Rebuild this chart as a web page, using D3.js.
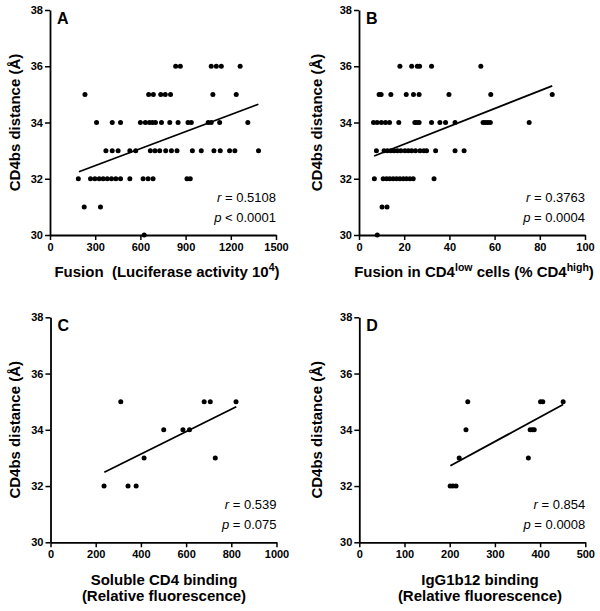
<!DOCTYPE html>
<html><head><meta charset="utf-8">
<script src="https://cdn.jsdelivr.net/npm/d3@7"></script>
<style>
body{margin:0;background:#fff;}
svg text{font-family:Arial,"Liberation Sans",sans-serif;fill:#000;white-space:pre;}
</style></head>
<body><svg id="c" width="600" height="611"></svg>
<script>
// ---- data ----
const yTicks = [30, 32, 34, 36, 38];
const xTicksA = [0, 300, 600, 900, 1200, 1500];
const xTicksB = [0, 20, 40, 60, 80, 100];
const xTicksC = [0, 200, 400, 600, 800, 1000];
const xTicksD = [0, 100, 200, 300, 400, 500];

const pointsA = [
  [834,36],[865,36],[1070,36],[1104,36],[1137,36],[1262,36],
  [232,35],[655,35],[686,35],[735,35],[765,35],[800,35],[1081,35],[1236,35],
  [309,34],[413,34],[468,34],[600,34],[633,34],[660,34],[680,34],[700,34],[740,34],[795,34],[850,34],[916,34],[938,34],[1050,34],[1070,34],[1126,34],[1313,34],
  [371,33],[413,33],[452,33],[530,33],[569,33],[666,33],[697,33],[728,33],[768,33],[806,33],[843,33],[945,33],[1004,33],[1088,33],[1130,33],[1192,33],[1227,33],[1384,33],
  [188,32],[269,32],[298,32],[327,32],[353,32],[380,32],[408,32],[437,32],[468,32],[530,32],[618,32],[651,32],[684,32],[909,32],[931,32],
  [227,31],[335,31],
  [625,30]
];
const pointsB = [
  [18.1,36],[23.3,36],[25.8,36],[26.8,36],[32.1,36],[53.9,36],
  [8.9,35],[9.8,35],[14.1,35],[20.9,35],[24.1,35],[26.6,35],[39.8,35],[58.3,35],[85.5,35],
  [6.4,34],[8,34],[9.9,34],[11.7,34],[13.5,34],[17.6,34],[24.7,34],[25.6,34],[26.6,34],[32.1,34],[35.8,34],[38.3,34],[42.5,34],[54.9,34],[55.9,34],[57,34],[58.1,34],[75.3,34],
  [7.7,33],[11.1,33],[12.6,33],[14.1,33],[15.5,33],[17,33],[18.5,33],[20.3,33],[21.8,33],[23.3,33],[25,33],[27,33],[28.7,33],[29.9,33],[33.9,33],[42.5,33],[46.5,33],
  [6.8,32],[10.7,32],[12.2,32],[13.6,32],[15.1,32],[16.6,32],[18.1,32],[19.6,32],[21,32],[22.5,32],[24,32],[33.2,32],
  [10.2,31],[12.4,31],
  [8.1,30]
];
const pointsC = [[237,32],[343,32],[379,32],[311,35],[414,33],[501,34],[586,34],[615,34],[680,35],[707,35],[729,33],[821,35]];
const pointsD = [[201,32],[207,32],[214,32],[221,33],[374,33],[236,34],[378,34],[383,34],[387,34],[240,35],[401,35],[406,35],[451,35]];

const fitA = [[192,32.25],[1383,34.65]];
const fitB = [[6.7,32.81],[85.5,35.3]];
const fitC = [[238,32.49],[822,34.82]];
const fitD = [[201.5,32.72],[451,34.9]];

const statsA = ["r", " = 0.5108", "p", " < 0.0001"];
const statsB = ["r", " = 0.3763", "p", " = 0.0004"];
const statsC = ["r", " = 0.539", "p", " = 0.075"];
const statsD = ["r", " = 0.854", "p", " = 0.0008"];

const yTitle = "CD4bs distance (Å)";

// ---- layout ----
const svg = d3.select("#c");
const W = 226, H = 225;

const panels = [
  {letter:"A", left:50, top:10, xmax:1500, ticks:xTicksA, pts:pointsA, fit:fitA, stats:statsA, ytx:19.5,
   xtitle:[[["Fusion  (Luciferase activity 10",0],["4",1],[")",0]]], xtc:167, xty:[277]},
  {letter:"B", left:359, top:10, xmax:100, ticks:xTicksB, pts:pointsB, fit:fitB, stats:statsB, ytx:322,
   xtitle:[[["Fusion in CD4",0],["low",1],[" cells (% CD4",0],["high",1],[")",0]]], xtc:474, xty:[277]},
  {letter:"C", left:50.5, top:317.3, xmax:1000, ticks:xTicksC, pts:pointsC, fit:fitC, stats:statsC, ytx:19.5,
   xtitle:[[["Soluble CD4 binding",0]],[["(Relative fluorescence)",0]]], xtc:164, xty:[585,601]},
  {letter:"D", left:359.3, top:317.3, xmax:500, ticks:xTicksD, pts:pointsD, fit:fitD, stats:statsD, ytx:322,
   xtitle:[[["IgG1b12 binding",0]],[["(Relative fluorescence)",0]]], xtc:480, xty:[585,601]}
];

panels.forEach(p => {
  const x = d3.scaleLinear().domain([0, p.xmax]).range([p.left, p.left + W]);
  const y = d3.scaleLinear().domain([30, 38]).range([p.top + H, p.top]);
  const g = svg.append("g");

  const ya = g.append("g").attr("transform", `translate(${p.left},0)`)
    .call(d3.axisLeft(y).tickValues(yTicks).tickFormat(d3.format("d")).tickSize(5).tickSizeOuter(0).tickPadding(2));
  const xa = g.append("g").attr("transform", `translate(0,${p.top + H})`)
    .call(d3.axisBottom(x).tickValues(p.ticks).tickFormat(d3.format("d")).tickSize(5).tickSizeOuter(0).tickPadding(3));
  [ya, xa].forEach(a => {
    a.select(".domain").attr("stroke", "#000").attr("stroke-width", 1.8);
    a.selectAll(".tick line").attr("stroke", "#000").attr("stroke-width", 1.5);
    a.selectAll(".tick text").attr("font-size", 11).attr("font-weight", "bold")
      .attr("font-family", 'Arial,"Liberation Sans",sans-serif').attr("fill", "#000");
  });

  // regression line
  g.append("line")
    .attr("x1", x(p.fit[0][0])).attr("y1", y(p.fit[0][1]))
    .attr("x2", x(p.fit[1][0])).attr("y2", y(p.fit[1][1]))
    .attr("stroke", "#000").attr("stroke-width", 1.8);

  // points
  g.selectAll("circle.pt").data(p.pts).enter().append("circle")
    .attr("cx", d => x(d[0])).attr("cy", d => y(d[1])).attr("r", 2.5).attr("fill", "#000");

  // panel letter
  g.append("text").attr("x", p.left + 7).attr("y", p.top + 13.5)
    .attr("font-size", 16).attr("font-weight", "bold").text(p.letter);

  // stats
  const sx = p.left + W;
  [[0, 192], [2, 212]].forEach(([i, dy]) => {
    const t = g.append("text").attr("x", sx).attr("y", p.top + dy).attr("text-anchor", "end").attr("font-size", 13);
    t.append("tspan").attr("font-style", "italic").text(p.stats[i]);
    t.append("tspan").text(p.stats[i + 1]);
  });

  // y title
  g.append("text").attr("transform", `translate(${p.ytx},${p.top + H / 2}) rotate(-90)`)
    .attr("text-anchor", "middle").attr("font-size", 15).attr("font-weight", "bold").text(yTitle);

  // x title
  p.xtitle.forEach((line, li) => {
    const t = g.append("text").attr("x", p.xtc).attr("y", p.xty[li]).attr("text-anchor", "middle")
      .attr("font-size", 15).attr("font-weight", "bold");
    line.forEach(([s, sup]) => {
      const ts = t.append("tspan").text(s);
      if (sup) ts.attr("font-size", 10.5).attr("baseline-shift", "6");
    });
  });
});
</script></body></html>
